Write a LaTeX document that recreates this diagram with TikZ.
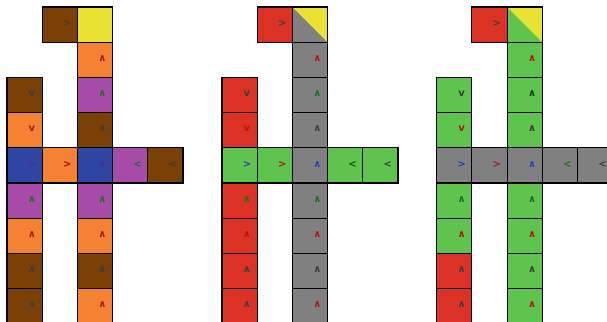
\documentclass[tikz,border=0pt]{standalone}
\usepackage{fontspec}
\newfontfamily\glyphfont{DejaVu Sans}
\definecolor{cbrown}{HTML}{7A4005}
\definecolor{cyellow}{HTML}{EAE232}
\definecolor{corange}{HTML}{F58233}
\definecolor{cpurple}{HTML}{A64CA8}
\definecolor{cblue}{HTML}{2E45A3}
\definecolor{cred}{HTML}{DC3226}
\definecolor{cgray}{HTML}{808080}
\definecolor{cgreen}{HTML}{5FC44D}
\definecolor{gdark}{HTML}{3C3C3C}
\definecolor{gred}{HTML}{B3141A}
\definecolor{ggreen}{HTML}{1F6E22}
\definecolor{gblue}{HTML}{2E3DB8}
\definecolor{gpurple}{HTML}{4F2E91}
\tikzset{
  cellbox/.style={draw=black, line width=1.1pt, minimum size=35.2pt, inner sep=0pt, outer sep=0pt},
  glyph/.style={font=\glyphfont\bfseries\fontsize{10}{10}\selectfont, inner sep=0pt},
}
% #1 name, #2 panel x offset, #3 row, #4 col, #5 fill, #6 glyph, #7 glyph colour
\newcommand\mkcell[7]{%
  \node[cellbox, fill=#5] (#1) at ({#2+7+17.6+#4*35.2},{7+17.6+#3*35.2}) {};
  \node[glyph, text=#7] (#1g) at ([xshift=7.4pt,yshift=1.2pt]#1.center) {#6};
}
% half-yellow cell
\newcommand\mkhalf[5]{%
  \node[cellbox, fill=#5] (#1) at ({#2+7+17.6+#4*35.2},{7+17.6+#3*35.2}) {};
  \fill[cyellow] (#1.north west) -- (#1.north east) -- (#1.south east) -- cycle;
  \draw[line width=1.1pt] (#1.north west) rectangle (#1.south east);
}
\begin{document}
\begin{tikzpicture}[x=1pt,y=-1pt]
\useasboundingbox (0,0) rectangle (607,321);
\clip (0,0) rectangle (607,321);
% ---------- panel 1 ----------
\mkcell{aa01}{0}{0}{1}{cbrown}{>}{gdark}
\mkcell{aa02}{0}{0}{2}{cyellow}{}{gdark}
\mkcell{aa12}{0}{1}{2}{corange}{∧}{gred}
\mkcell{aa20}{0}{2}{0}{cbrown}{v}{gdark}
\mkcell{aa22}{0}{2}{2}{cpurple}{∧}{ggreen}
\mkcell{aa30}{0}{3}{0}{corange}{v}{gred}
\mkcell{aa32}{0}{3}{2}{cbrown}{∧}{gdark}
\mkcell{aa40}{0}{4}{0}{cblue}{>}{gpurple}
\mkcell{aa41}{0}{4}{1}{corange}{>}{gred!80!black}
\mkcell{aa42}{0}{4}{2}{cblue}{∧}{gpurple}
\mkcell{aa43}{0}{4}{3}{cpurple}{<}{ggreen}
\mkcell{aa44}{0}{4}{4}{cbrown}{<}{gdark}
\mkcell{aa50}{0}{5}{0}{cpurple}{∧}{ggreen}
\mkcell{aa52}{0}{5}{2}{cpurple}{∧}{ggreen}
\mkcell{aa60}{0}{6}{0}{corange}{∧}{gred}
\mkcell{aa62}{0}{6}{2}{corange}{∧}{gred}
\mkcell{aa70}{0}{7}{0}{cbrown}{∧}{gdark}
\mkcell{aa72}{0}{7}{2}{cbrown}{∧}{gdark}
\mkcell{aa80}{0}{8}{0}{cbrown}{∧}{gdark}
\mkcell{aa82}{0}{8}{2}{corange}{∧}{gred}
% ---------- panel 2 ----------
\mkcell{bb01}{215}{0}{1}{cred}{>}{gdark}
\mkhalf{bb02}{215}{0}{2}{cgray}
\mkcell{bb12}{215}{1}{2}{cgray}{∧}{gred}
\mkcell{bb20}{215}{2}{0}{cred}{v}{gdark}
\mkcell{bb22}{215}{2}{2}{cgray}{∧}{ggreen}
\mkcell{bb30}{215}{3}{0}{cred}{v}{gred}
\mkcell{bb32}{215}{3}{2}{cgray}{∧}{gdark}
\mkcell{bb40}{215}{4}{0}{cgreen}{>}{gblue}
\mkcell{bb41}{215}{4}{1}{cgreen}{>}{gred}
\mkcell{bb42}{215}{4}{2}{cgray}{∧}{gblue}
\mkcell{bb43}{215}{4}{3}{cgreen}{<}{ggreen!70!black}
\mkcell{bb44}{215}{4}{4}{cgreen}{<}{gdark}
\mkcell{bb50}{215}{5}{0}{cred}{∧}{ggreen}
\mkcell{bb52}{215}{5}{2}{cgray}{∧}{ggreen}
\mkcell{bb60}{215}{6}{0}{cred}{∧}{gred}
\mkcell{bb62}{215}{6}{2}{cgray}{∧}{gred}
\mkcell{bb70}{215}{7}{0}{cred}{∧}{gdark}
\mkcell{bb72}{215}{7}{2}{cgray}{∧}{gdark}
\mkcell{bb80}{215}{8}{0}{cred}{∧}{gdark}
\mkcell{bb82}{215}{8}{2}{cgray}{∧}{gred}
% ---------- panel 3 ----------
\mkcell{cc01}{429.7}{0}{1}{cred}{>}{gdark}
\mkhalf{cc02}{429.7}{0}{2}{cgreen}
\mkcell{cc12}{429.7}{1}{2}{cgreen}{∧}{gred}
\mkcell{cc20}{429.7}{2}{0}{cgreen}{v}{gdark}
\mkcell{cc22}{429.7}{2}{2}{cgreen}{∧}{ggreen!60!black}
\mkcell{cc30}{429.7}{3}{0}{cgreen}{v}{gred}
\mkcell{cc32}{429.7}{3}{2}{cgreen}{∧}{gdark}
\mkcell{cc40}{429.7}{4}{0}{cgray}{>}{gblue}
\mkcell{cc41}{429.7}{4}{1}{cgray}{>}{gred}
\mkcell{cc42}{429.7}{4}{2}{cgray}{∧}{gblue}
\mkcell{cc43}{429.7}{4}{3}{cgray}{<}{ggreen}
\mkcell{cc44}{429.7}{4}{4}{cgray}{<}{gdark}
\mkcell{cc50}{429.7}{5}{0}{cgreen}{∧}{ggreen}
\mkcell{cc52}{429.7}{5}{2}{cgreen}{∧}{ggreen}
\mkcell{cc60}{429.7}{6}{0}{cgreen}{∧}{gred}
\mkcell{cc62}{429.7}{6}{2}{cgreen}{∧}{gred}
\mkcell{cc70}{429.7}{7}{0}{cred}{∧}{gdark}
\mkcell{cc72}{429.7}{7}{2}{cgreen}{∧}{gdark}
\mkcell{cc80}{429.7}{8}{0}{cred}{∧}{gdark}
\mkcell{cc82}{429.7}{8}{2}{cgreen}{∧}{gred}
\end{tikzpicture}
\end{document}
